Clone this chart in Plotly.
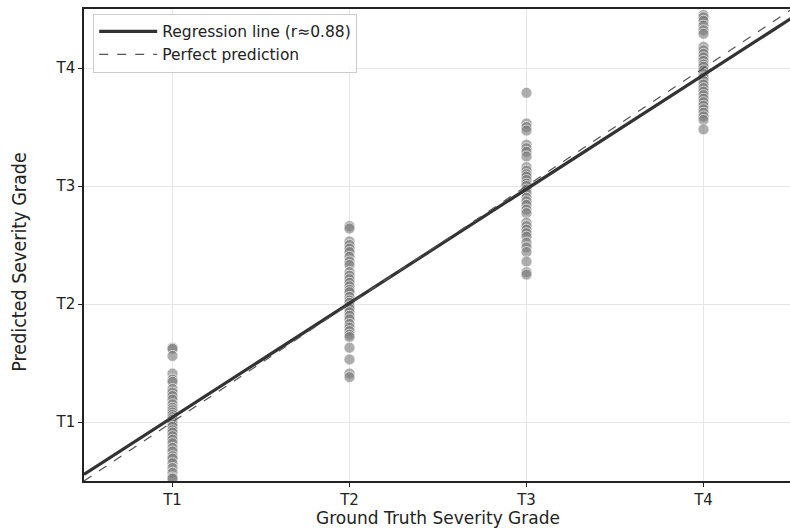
import numpy as np
import plotly.graph_objects as go

grades = [1, 2, 3, 4]
tick_labels = ["T1", "T2", "T3", "T4"]

pred_t1 = [1.63, 1.62, 1.56, 1.41, 1.36, 1.34, 1.28, 1.25, 1.22, 1.19, 1.15, 1.12,
           1.10, 1.08, 1.06, 1.04, 1.02, 1.00, 0.98, 0.96, 0.93, 0.91, 0.88, 0.85,
           0.82, 0.78, 0.75, 0.71, 0.69, 0.65, 0.61, 0.57, 0.53, 0.52]
pred_t2 = [2.66, 2.64, 2.53, 2.50, 2.47, 2.44, 2.40, 2.36, 2.33, 2.27, 2.24, 2.21,
           2.18, 2.15, 2.12, 2.10, 2.06, 2.03, 2.01, 1.98, 1.96, 1.93, 1.90, 1.87,
           1.83, 1.80, 1.77, 1.74, 1.72, 1.63, 1.53, 1.41, 1.38]
pred_t3 = [3.79, 3.53, 3.50, 3.47, 3.35, 3.32, 3.29, 3.25, 3.16, 3.13, 3.10, 3.08,
           3.05, 3.02, 3.00, 2.97, 2.94, 2.90, 2.87, 2.84, 2.80, 2.77, 2.69, 2.66,
           2.63, 2.60, 2.57, 2.52, 2.48, 2.44, 2.36, 2.27, 2.25]
pred_t4 = [4.45, 4.43, 4.40, 4.36, 4.32, 4.29, 4.18, 4.15, 4.12, 4.09, 4.06, 4.03,
           4.01, 3.98, 3.95, 3.92, 3.89, 3.86, 3.83, 3.80, 3.77, 3.74, 3.71, 3.68,
           3.65, 3.62, 3.59, 3.56, 3.48]

reg_slope = 0.967
reg_intercept = 0.073
axis_range = [0.5, 4.5]

preds = [pred_t1, pred_t2, pred_t3, pred_t4]
xs = []
ys = []
for g, p in zip(grades, preds):
    xs += [g] * len(p)
    ys += p

line_x = np.array(axis_range)
reg_y = reg_slope * line_x + reg_intercept

fig = go.Figure()
fig.add_trace(go.Scatter(
    x=xs, y=ys, mode="markers", showlegend=False,
    marker=dict(size=11, color="rgba(120,120,120,0.6)",
                line=dict(color="rgba(255,255,255,0.8)", width=0.8)),
))
fig.add_trace(go.Scatter(
    x=line_x, y=reg_y, mode="lines", name="Regression line (r≈0.88)",
    line=dict(color="#333333", width=3.2),
))
fig.add_trace(go.Scatter(
    x=line_x, y=line_x, mode="lines", name="Perfect prediction",
    line=dict(color="#555555", width=1.2, dash="dash"),
))

axis_common = dict(
    range=axis_range, tickvals=grades, ticktext=tick_labels,
    showgrid=True, gridcolor="#e6e6e6", gridwidth=1,
    showline=True, linecolor="#222222", linewidth=1.5, mirror=True,
    ticks="outside", ticklen=4, tickcolor="#222222",
    zeroline=False, tickfont=dict(size=15, color="#222222"),
)

fig.update_layout(
    width=794, height=528,
    margin=dict(l=84, r=0, t=9, b=47),
    paper_bgcolor="white", plot_bgcolor="white",
    font=dict(family="DejaVu Sans", color="#222222"),
    xaxis=dict(title=dict(text="Ground Truth Severity Grade", font=dict(size=17), standoff=6),
               **axis_common),
    yaxis=axis_common,
    legend=dict(x=0.013, y=0.99, xanchor="left", yanchor="top",
                bordercolor="#cccccc", borderwidth=1, bgcolor="rgba(255,255,255,0.85)",
                font=dict(size=15.5), tracegroupgap=0, itemwidth=58),
    annotations=[dict(
        text="Predicted Severity Grade", textangle=-90,
        xref="paper", yref="paper", x=-0.0915, y=0.463,
        xanchor="center", yanchor="middle", showarrow=False,
        font=dict(size=19.5, family="DejaVu Sans Condensed", color="#222222"),
    )],
)

fig.write_html(
    "out.html",
    config={"displayModeBar": False},
    post_script="document.body.style.margin='0';document.body.style.overflow='hidden';",
)
